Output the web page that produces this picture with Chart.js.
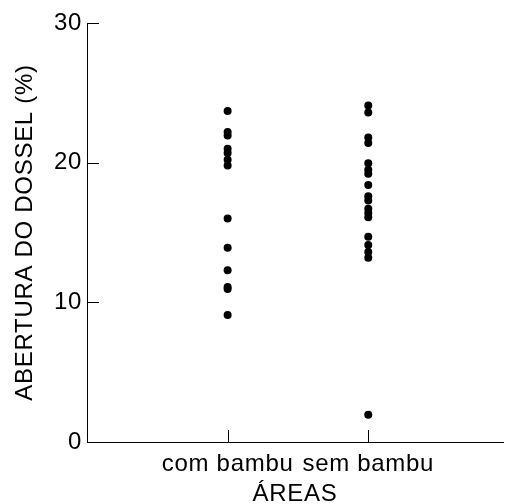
<!DOCTYPE html>
<html>
<head>
<meta charset="utf-8">
<script src="https://cdn.jsdelivr.net/npm/chart.js@4/dist/chart.umd.min.js"></script>
<style>
  html, body { margin: 0; padding: 0; background: #fff; }
  #wrap { width: 507px; height: 504px; }
</style>
</head>
<body>
<div id="wrap"><canvas id="chart" width="507" height="504"></canvas></div>
<script>
// categories on the x axis
const areas = ['com bambu', 'sem bambu'];
// canopy openness (%)
const comBambu = [23.7, 22.2, 21.95, 21.0, 20.7, 20.2, 19.8, 16.0, 13.9, 12.3, 11.1, 10.95, 9.1];
const semBambu = [24.1, 23.6, 21.8, 21.4, 19.95, 19.5, 19.2, 18.4, 17.6, 17.3, 16.7, 16.4, 16.1, 14.7, 14.1, 13.6, 13.2, 1.95];
const yTicks = [0, 10, 20, 30];

const FONT = "'Liberation Sans', Arial, Helvetica, sans-serif";

const points = [
  ...comBambu.map(v => ({ x: 1, y: v })),
  ...semBambu.map(v => ({ x: 2, y: v })),
];

// slightly looser lettering, the original font runs a bit wide
const spacing = {
  id: 'spacing',
  beforeUpdate(chart) { chart.ctx.letterSpacing = '0.7px'; },
  beforeDraw(chart) { chart.ctx.letterSpacing = '0.7px'; },
};

// ticks drawn inward, like the original figure
const innerTicks = {
  id: 'innerTicks',
  afterDraw(chart) {
    const { ctx, chartArea, scales } = chart;
    ctx.save();
    ctx.strokeStyle = '#000';
    ctx.lineWidth = 1;
    ctx.beginPath();
    yTicks.forEach(v => {
      const y = Math.round(scales.y.getPixelForValue(v)) + 0.5;
      ctx.moveTo(chartArea.left, y);
      ctx.lineTo(chartArea.left + 12, y);
    });
    areas.forEach((a, i) => {
      const x = Math.round(scales.x.getPixelForValue(i + 1)) + 0.5;
      ctx.moveTo(x, chartArea.bottom);
      ctx.lineTo(x, chartArea.bottom - 12);
    });
    ctx.stroke();
    ctx.restore();
  }
};

new Chart(document.getElementById('chart'), {
  type: 'scatter',
  plugins: [spacing, innerTicks],
  data: {
    datasets: [{
      data: points,
      backgroundColor: '#000',
      borderColor: '#000',
      pointRadius: 4,
      pointHoverRadius: 4,
      borderWidth: 0,
    }],
  },
  options: {
    responsive: false,
    animation: false,
    events: [],
    layout: { padding: { top: 23, right: 0, bottom: 0, left: 0 } },
    plugins: { legend: false, tooltip: false },
    scales: {
      x: {
        type: 'linear',
        min: 0,
        max: 2.958,
        afterBuildTicks: (scale) => { scale.ticks = areas.map((a, i) => ({ value: i + 1 })); },
        afterFit: (scale) => { scale.height = 62; },
        grid: { display: false, drawTicks: false },
        border: { display: true, color: '#000', width: 1 },
        ticks: {
          autoSkip: false,
          maxRotation: 0,
          padding: 8,
          color: '#000',
          font: { family: FONT, size: 24 },
          callback: (v) => areas[v - 1],
        },
        title: {
          display: true,
          text: 'ÁREAS',
          color: '#000',
          font: { family: FONT, size: 24 },
          padding: { top: 0, bottom: -5 },
        },
      },
      y: {
        min: 0,
        max: 30,
        afterBuildTicks: (scale) => { scale.ticks = yTicks.map(v => ({ value: v })); },
        afterFit: (scale) => { scale.width = 87; },
        grid: { display: false, drawTicks: false },
        border: { display: true, color: '#000', width: 1 },
        ticks: {
          padding: 5,
          color: '#000',
          font: { family: FONT, size: 24 },
        },
        title: {
          display: true,
          text: 'ABERTURA DO DOSSEL (%)',
          color: '#000',
          font: { family: FONT, size: 24 },
          padding: { top: 11, bottom: 0 },
        },
      },
    },
  },
});
</script>
</body>
</html>
